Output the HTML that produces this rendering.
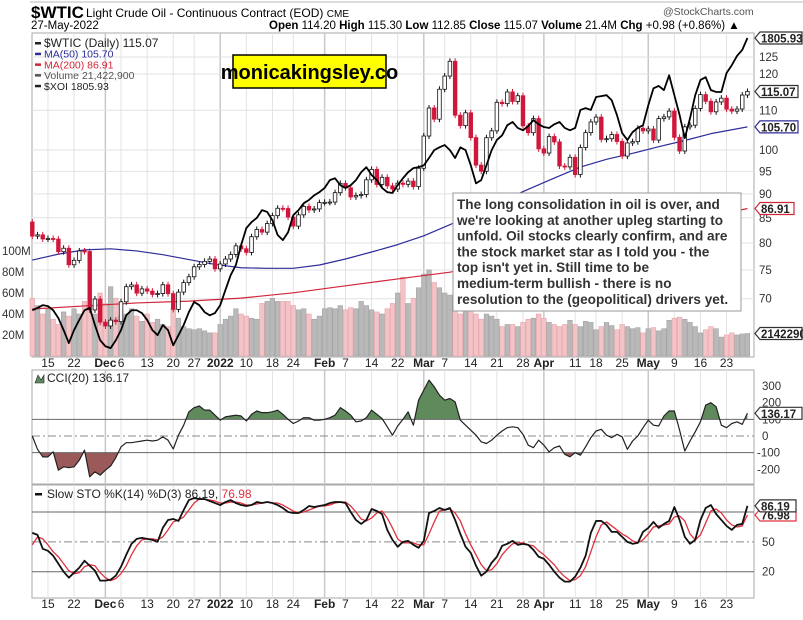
<!DOCTYPE html>
<html><head><meta charset="utf-8">
<style>
body{margin:0;background:#fff;width:803px;height:615px;overflow:hidden;font-family:"Liberation Sans",sans-serif}
svg text{font-family:"Liberation Sans",sans-serif}
</style></head><body>
<svg id="c" width="803" height="615" viewBox="0 0 803 615" xmlns="http://www.w3.org/2000/svg">
<rect width="803" height="615" fill="#fff"/>
<line x1="30" y1="2" x2="803" y2="2" stroke="#bbb"/>
<text x="31" y="18" font-size="17" font-weight="bold">$WTIC</text>
<text x="86" y="17" font-size="12">Light Crude Oil - Continuous Contract (EOD) <tspan font-size="10">CME</tspan></text>
<text x="31" y="29" font-size="11.5">27-May-2022</text>
<text x="269" y="29" font-size="11.5"><tspan font-weight="bold">Open</tspan> 114.20  <tspan font-weight="bold">High</tspan> 115.30  <tspan font-weight="bold">Low</tspan> 112.85  <tspan font-weight="bold">Close</tspan> 115.07  <tspan font-weight="bold">Volume</tspan> 21.4M  <tspan font-weight="bold">Chg</tspan> +0.98 (+0.86%) ▲</text>
<text x="663" y="15" font-size="10.5" fill="#555">@StockCharts.com</text>
<g id="g"></g>
</svg>
<script>
const closes=[81.34,81.59,80.79,80.88,80.76,78.36,79.01,75.94,76.75,78.50,78.39,68.15,69.95,66.18,65.57,66.50,66.26,69.49,72.05,72.36,70.94,71.67,71.29,70.73,70.87,72.38,70.86,68.23,71.12,72.76,73.79,75.57,75.98,76.56,76.99,75.21,76.08,76.99,77.85,79.46,78.90,78.23,81.22,82.64,82.12,83.82,85.43,86.96,86.90,85.14,83.31,85.60,87.35,86.61,86.82,88.15,88.20,88.26,90.27,92.31,91.32,89.36,89.66,89.88,93.10,95.46,92.07,93.66,91.76,91.07,92.35,92.10,92.81,91.59,95.72,103.41,110.60,107.67,115.68,119.40,123.70,108.70,106.02,109.33,103.01,96.44,95.04,102.98,104.70,112.12,111.76,114.93,112.34,113.90,105.96,104.24,107.82,100.28,99.27,103.28,101.96,96.23,96.03,98.26,94.29,100.60,104.25,106.95,108.21,102.56,102.75,103.79,102.07,98.54,101.70,102.02,105.36,104.69,105.17,102.41,107.81,108.26,109.77,103.09,99.76,105.71,106.13,110.49,114.20,112.40,109.59,112.21,113.23,110.29,109.77,110.33,114.09,115.07];
const prevClose0=84.15;
const volumes=[55,48,40,45,35,30,42,38,45,40,52,48,40,60,50,66,55,38,40,45,38,33,40,32,35,30,28,45,36,28,26,25,26,24,22,22,30,35,38,45,40,38,36,35,50,52,55,52,52,52,48,44,45,40,35,38,45,46,45,48,44,46,45,52,48,44,42,40,45,50,60,75,50,55,65,78,82,70,65,60,58,45,40,50,45,40,35,40,38,35,28,30,30,28,32,35,36,40,36,32,30,28,30,34,30,28,33,32,25,28,32,29,25,30,28,26,27,22,26,27,24,26,34,36,37,35,32,28,22,25,28,26,18,20,22,20,21,21.42];
const xoi=[1216,1221,1227,1225,1216,1199,1173,1145,1173,1195,1216,1221,1184,1151,1138,1134,1151,1173,1205,1216,1216,1210,1195,1173,1162,1184,1173,1140,1162,1184,1212,1234,1227,1212,1205,1210,1227,1260,1292,1314,1357,1394,1407,1416,1433,1429,1411,1379,1368,1385,1422,1433,1448,1455,1465,1472,1481,1498,1502,1487,1481,1487,1498,1515,1526,1509,1498,1481,1472,1470,1487,1502,1515,1524,1526,1530,1546,1563,1569,1574,1563,1546,1569,1563,1530,1491,1498,1530,1563,1585,1595,1617,1624,1611,1606,1615,1628,1619,1613,1611,1619,1624,1611,1606,1611,1650,1654,1650,1678,1680,1682,1671,1639,1600,1585,1602,1611,1617,1660,1697,1702,1693,1725,1682,1639,1589,1632,1682,1715,1721,1693,1689,1689,1730,1747,1767,1780,1805.93];
const ma50Idx=[0,5,10,15,20,25,30,35,40,45,50,55,60,65,70,75,80,85,90,95,100,105,110,115,120,125,130,137];
const ma50=[76.8,77.9,78.7,78.9,78.5,77.8,76.9,76.0,75.4,75.3,75.3,75.9,77.0,78.3,79.7,81.4,83.6,86.0,88.5,91.0,93.5,96.0,97.8,99.2,100.8,102.3,104.0,105.70];
const ma200Idx=[0,10,20,30,40,50,60,70,80,90,100,110,120,130,137];
const ma200=[68.3,68.8,69.3,69.6,70.1,71.0,72.2,73.4,74.6,76.6,78.6,80.6,82.7,85.2,86.91];
const cci=[0,-80,-125,-125,-95,-205,-185,-190,-185,-145,-85,-245,-215,-235,-205,-180,-130,-65,-40,-40,-35,-30,-25,-30,-25,-5,-25,-78,5,65,145,170,180,155,155,125,95,115,120,125,120,90,130,150,140,140,145,155,130,100,75,90,110,110,95,95,100,110,125,170,150,125,85,90,110,155,130,105,55,5,60,100,145,65,215,275,335,295,245,215,225,205,95,65,35,5,-35,-45,-25,5,30,50,55,50,10,-55,-70,-25,-55,-95,-70,-60,-110,-125,-100,-115,-65,-10,30,40,5,-10,10,-5,-80,-30,0,50,95,65,60,120,150,150,35,-90,-30,25,85,185,200,175,65,50,75,85,70,136.17];
const stoK=[59,57,43,41,36,28,20,14,19,24,31,26,21,11,11,12,16,25,37,48,53,54,53,52,50,64,72,73,71,82,92,94,93,93,91,89,87,90,92,89,87,86,87,90,89,90,89,87,84,80,79,79,82,86,85,86,87,89,90,90,89,80,72,68,72,83,81,78,62,52,45,50,51,47,44,51,79,81,84,82,84,72,58,45,39,26,16,20,29,35,46,48,51,47,48,47,42,35,33,27,20,14,10,10,15,24,36,59,71,71,67,60,60,55,50,48,49,60,64,70,64,68,71,85,72,55,48,52,72,84,87,78,72,66,62,67,68,86.19];
const stoD=[47,55,53,47,40,35,28,21,18,19,25,27,26,19,14,11,13,18,26,37,46,52,53,53,52,55,62,70,72,75,82,89,93,93,92,91,89,89,90,90,89,87,87,88,89,90,89,89,87,84,81,79,80,82,84,86,86,87,89,90,90,86,80,73,71,74,79,81,74,64,53,49,49,49,47,47,58,70,81,82,83,79,71,58,47,37,27,21,22,28,37,43,48,49,49,47,46,41,37,32,27,20,15,11,12,16,25,40,55,67,70,66,62,58,55,51,49,52,58,65,66,67,68,75,76,71,58,52,57,69,81,83,79,72,67,65,66,76.98];
const dateLabels=["15","22","Dec","6","13","20","27","2022","10","18","24","Feb","7","14","22","Mar","7","14","21","28","Apr","11","18","25","May","9","16","23"];
const dateIdx=[3,8,14,17,22,27,31,36,41,46,50,56,60,65,70,75,79,84,89,94,98,104,108,113,118,123,128,133];
const priceTicks=[125,120,110,100,95,90,85,80,75,70];
const volTicks=[20,40,60,80,100];
const cciTicks=[300,200,100,0,-100,-200];
const stoTicks=[80,50,20];

const NS="http://www.w3.org/2000/svg",G=document.getElementById('g');
const X0=32,X1=754,Y0=33,Y1=357,CT=370,CB=484,ST=485,SB=598;
const xs=i=>32.3+5.22*i;
const yp=p=>150-417*Math.log(p/100);
const yv=v=>356-1.05*v;
const yx=v=>38+(1805.93-v)*0.4615;
const yc=v=>436-v*0.1667;
const ys=v=>591.6-v*0.995;
function el(t,a,p){const e=document.createElementNS(NS,t);for(const k in a)e.setAttribute(k,a[k]);(p||G).appendChild(e);return e;}
function txt(s,a){const e=el('text',a);e.textContent=s;return e;}

// panel backgrounds
[[Y0,Y1,'main-price-panel'],[CT,CB,'cci-panel'],[ST,SB,'stochastic-panel']].forEach(([a,b,n])=>{
 const r=el('rect',{x:X0,y:a,width:X1-X0,height:b-a,fill:'#fff',stroke:'#aaa'});
 
 
});
// vertical grid + date labels
dateIdx.forEach((d,k)=>{
 const x=xs(d),isM=isNaN(+dateLabels[k])||dateLabels[k]==="2022";
 [[Y0,Y1],[CT,CB],[ST,SB]].forEach(([a,b])=>el('line',{x1:x,x2:x,y1:a,y2:b,stroke:isM?'#c8c8c8':'#e2e2e2','stroke-width':isM?1.5:1}));
 [367,608].forEach((yy,j)=>{
  const t=txt(dateLabels[k],{x:x,y:yy,'font-size':12,'text-anchor':'middle','font-weight':isM?'bold':'normal',fill:'#222'});
  
  
 });
});
// price grid
priceTicks.forEach(p=>{
 el('line',{x1:X0,x2:X1,y1:yp(p),y2:yp(p),stroke:'#e2e2e2'});
 const t=txt(String(p),{x:759,y:yp(p)+4,'font-size':11.5,fill:'#333'});
 
 
});
volTicks.forEach(v=>{
 const t=txt(v+'M',{x:2,y:yv(v)+4,'font-size':11.5,fill:'#333'});
 
 
});
// volume bars
volumes.forEach((v,i)=>{
 const pc=i?closes[i-1]:prevClose0,down=closes[i]<pc;
 const r=el('rect',{x:xs(i)-2.3,y:yv(v),width:4.6,height:356-yv(v),fill:down?'#f2c4c8':'#b9b9b9',stroke:down?'#e8a3a9':'#a3a3a3','stroke-width':0.6});
 
 
});
function poly(pts,color,w,name){const p=el('polyline',{points:pts.map(q=>q.join(',')).join(' '),fill:'none',stroke:color,'stroke-width':w,'stroke-linejoin':'round'});return p;}
poly(ma200.map((v,k)=>[xs(ma200Idx[k]),yp(v)]),'#d0263a',1.2,'ma200-line');
poly(ma50.map((v,k)=>[xs(ma50Idx[k]),yp(v)]),'#2c2c9a',1.2,'ma50-line');
// candles
closes.forEach((c,i)=>{
 const o=i?closes[i-1]:prevClose0,down=c<o,x=xs(i);
 const top=yp(Math.max(o,c)),bot=yp(Math.min(o,c));
 const col=down?'#d0163a':'#111';
 el('line',{x1:x,x2:x,y1:top-3,y2:bot+3,stroke:col,'stroke-width':1});
 const r=el('rect',{x:x-1.8,y:top,width:3.6,height:Math.max(1,bot-top),fill:down?'#d0163a':'#fff',stroke:col,'stroke-width':0.8});
 
 
});
poly(xoi.map((v,i)=>[xs(i),yx(v)]),'#000',1.8,'xoi-line');
// watermark
const wm=el('rect',{x:233,y:55,width:153,height:33,fill:'#ffff00',stroke:'#000','stroke-width':1.5});


const wt=txt('monicakingsley.co',{x:309.5,y:79,'font-size':20,'font-weight':'bold','text-anchor':'middle'});


// annotation
const ab=el('rect',{x:453,y:193,width:288,height:118,fill:'#fff',stroke:'#999','stroke-width':1});


["The long consolidation in oil is over, and","we're looking at another upleg starting to","unfold. Oil stocks clearly confirm, and are","the stock market star as I told you - the","top isn't yet in. Still time to be","medium-term bullish - there is no","resolution to the (geopolitical) drivers yet."].forEach((s,k)=>{
 const t=txt(s,{x:457,y:209+k*15.8,'font-size':13.6,'font-weight':'bold',fill:'#333'});
 
 
});
// legend
const leg=[["$WTIC (Daily) 115.07","#222"],["MA(50) 105.70","#2c2c9a"],["MA(200) 86.91","#d0263a"],["Volume 21,422,900","#555"],["$XOI 1805.93","#222"]];
leg.forEach(([s,c],k)=>{
 el('rect',{x:35,y:42+k*10.7,width:6,height:2.5,fill:c});
 const t=txt(s,{x:44,y:47+k*10.7,'font-size':k?10.5:12,fill:c});
 
 
});
// value tags
function tag(y,s,c,name,w){
 const p=el('path',{d:`M755,${y} l5,-6 h${w} v12 h-${w} z`,fill:'#fff',stroke:c,'stroke-width':1.2});
 
 
 const t=txt(s,{x:761,y:y+4.5,'font-size':11.5,'font-weight':'bold',fill:'#222'});
 
 
}
tag(yx(xoi[xoi.length-1]),'1805.93','#333','xoi-value-tag',42);
tag(yp(closes[closes.length-1]),'115.07','#333','price-value-tag',38);
tag(yp(ma50[ma50.length-1]),'105.70','#2c2c9a','ma50-value-tag',38);
tag(yp(ma200[ma200.length-1]),'86.91','#d0263a','ma200-value-tag',34);
tag(yv(volumes[volumes.length-1]),'2142290','#333','volume-value-tag',42);
// CCI
const cciPts=cci.map((v,i)=>[xs(i),yc(v)]);
const defs=el('defs',{});
const c1=el('clipPath',{id:'ca'},defs);el('rect',{x:X0,y:CT,width:X1-X0,height:yc(100)-CT},c1);
const c2=el('clipPath',{id:'cb'},defs);el('rect',{x:X0,y:yc(-100),width:X1-X0,height:CB-yc(-100)},c2);
const pa='M'+cciPts.map(p=>p.join(',')).join('L');
const fa=el('path',{d:pa+`L${xs(cci.length-1)},${yc(100)}L${xs(0)},${yc(100)}Z`,fill:'#5f8a5c',stroke:'none','clip-path':'url(#ca)'});


const fb=el('path',{d:pa+`L${xs(cci.length-1)},${yc(-100)}L${xs(0)},${yc(-100)}Z`,fill:'#9b5a5a',stroke:'none','clip-path':'url(#cb)'});


[100,-100].forEach(v=>el('line',{x1:X0,x2:X1,y1:yc(v),y2:yc(v),stroke:'#666'}));
el('line',{x1:X0,x2:X1,y1:yc(0),y2:yc(0),stroke:'#888','stroke-dasharray':'8,3,2,3'});
poly(cciPts,'#222',1.2,'cci-line');
cciTicks.forEach(v=>{
 const t=txt(String(v),{x:v<0?757:762,y:yc(v)+4,'font-size':11.5,fill:'#333'});
 
 
});
tag(yc(cci[cci.length-1]),'136.17','#333','cci-value-tag',42);
const cl=txt('CCI(20) 136.17',{x:47,y:382,'font-size':12,fill:'#222'});


el('path',{d:'M35,383 l3,-8 l3,5 l3,-5 v8 z',fill:'#5f8a5c',stroke:'#222','stroke-width':0.6});
// Stochastic
[80,20].forEach(v=>el('line',{x1:X0,x2:X1,y1:ys(v),y2:ys(v),stroke:'#666'}));
el('line',{x1:X0,x2:X1,y1:ys(50),y2:ys(50),stroke:'#888','stroke-dasharray':'8,3,2,3'});
poly(stoD.map((v,i)=>[xs(i),ys(v)]),'#e0313f',1.3,'sto-d-line');
poly(stoK.map((v,i)=>[xs(i),ys(v)]),'#111',1.8,'sto-k-line');
stoTicks.forEach(v=>{if(v===80)return;
 const t=txt(String(v),{x:762,y:ys(v)+4,'font-size':11.5,fill:'#333'});
 
 
});
tag(ys(stoD[stoD.length-1]),'76.98','#e0313f','sto-d-value-tag',36);
tag(ys(stoK[stoK.length-1]),'86.19','#333','sto-k-value-tag',36);
el('rect',{x:35,y:493,width:7,height:2.5,fill:'#111'});
const sl=txt('',{x:47,y:498,'font-size':12,fill:'#222'});
sl.innerHTML='Slow STO %K(14) %D(3) 86.19, <tspan fill="#e0313f">76.98</tspan>';


</script>
</body></html>
